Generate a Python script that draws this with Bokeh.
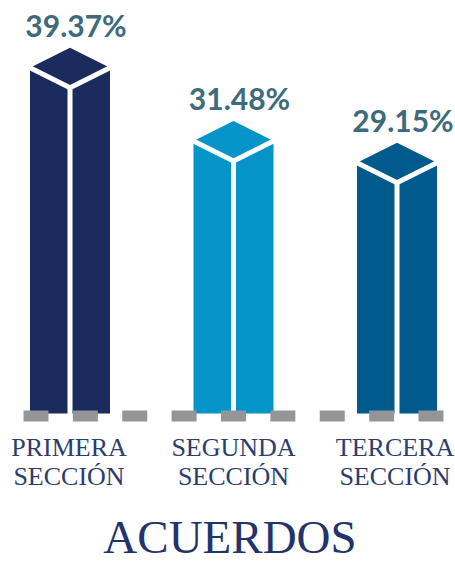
from bokeh.plotting import figure
from bokeh.models import Range1d
from bokeh.core.properties import value
from bokeh.embed import file_html
from bokeh.resources import INLINE

# ---- data ----
categories = ["PRIMERA\nSECCIÓN", "SEGUNDA\nSECCIÓN", "TERCERA\nSECCIÓN"]
percentages = [39.37, 31.48, 29.15]
value_labels = ["39.37%", "31.48%", "29.15%"]
bar_colors = ["#1B2B5E", "#0494C8", "#005A8C"]
title_text = "ACUERDOS"

# ---- layout (pixels) ----
W, H = 455, 562
K = 9.29            # pixels per percentage point
BASE_PX = 413       # baseline in pixels from top
x0 = 0

def py(px):  # pixel offset -> y units
    return px / K

y_top = BASE_PX / K
y_bot = -(H - BASE_PX) / K

p = figure(width=W, height=H, output_backend="svg", toolbar_location=None,
           x_range=Range1d(x0, x0 + W), y_range=Range1d(y_bot, y_top),
           min_border=0, outline_line_color=None)
p.axis.visible = False
p.grid.visible = False
p.background_fill_color = "white"
p.border_fill_color = "white"

half_w = 40
centers = [69.5 + 163.5 * i for i in range(len(percentages))]

xs, ys, wl_x, wl_y = [], [], [], []
for cx, v in zip(centers, percentages):
    xs.append([cx, cx + half_w, cx + half_w, cx - half_w, cx - half_w])
    ys.append([v, v - py(20), 0, 0, v - py(20)])
    wl_x.append([cx - half_w - 2, cx, cx + half_w + 2])
    wl_y.append([v - py(19), v - py(40), v - py(19)])
    wl_x.append([cx, cx])
    wl_y.append([v - py(40), py(-2)])

p.patches(xs, ys, fill_color=bar_colors, line_color=None)
p.multi_line(wl_x, wl_y, line_color="white", line_width=5, line_join="miter")

# ground dashes
n_d = 9
dx = [35.5 + 49.375 * j for j in range(n_d)]
p.rect(x=dx, y=[py(-2.5)] * n_d, width=25, height=py(11),
       fill_color="#939598", line_color=None)

# value labels
p.text(x=[c + 6 for c in centers], y=[v + py(23) for v in percentages],
       text=value_labels, text_align="center", text_baseline="alphabetic",
       text_font=value("Lato"), text_font_style="bold", text_font_size="30px",
       text_color="#3D6A7C")

# category labels
l1 = [c.split("\n")[0] for c in categories]
l2 = [c.split("\n")[1] for c in categories]
lc = [centers[0] - 1, centers[1], centers[2] - 2]
p.text(x=lc, y=[py(-(447 - 413))] * 3, text=l1, text_align="center",
       text_baseline="alphabetic", text_font=value("Liberation Serif"),
       text_font_size="26px", text_color="#2C3C70")
p.text(x=lc, y=[py(-(476 - 413))] * 3, text=l2, text_align="center",
       text_baseline="alphabetic", text_font=value("Liberation Serif"),
       text_font_size="26px", text_color="#2C3C70")

# title
p.text(x=[229.5], y=[py(-(536 - 413))], text=[title_text], text_align="center",
       text_baseline="alphabetic", text_font=value("Liberation Serif"),
       text_font_size="47px", text_color="#24336B")

open("out.html", "w").write(file_html(p, INLINE))
